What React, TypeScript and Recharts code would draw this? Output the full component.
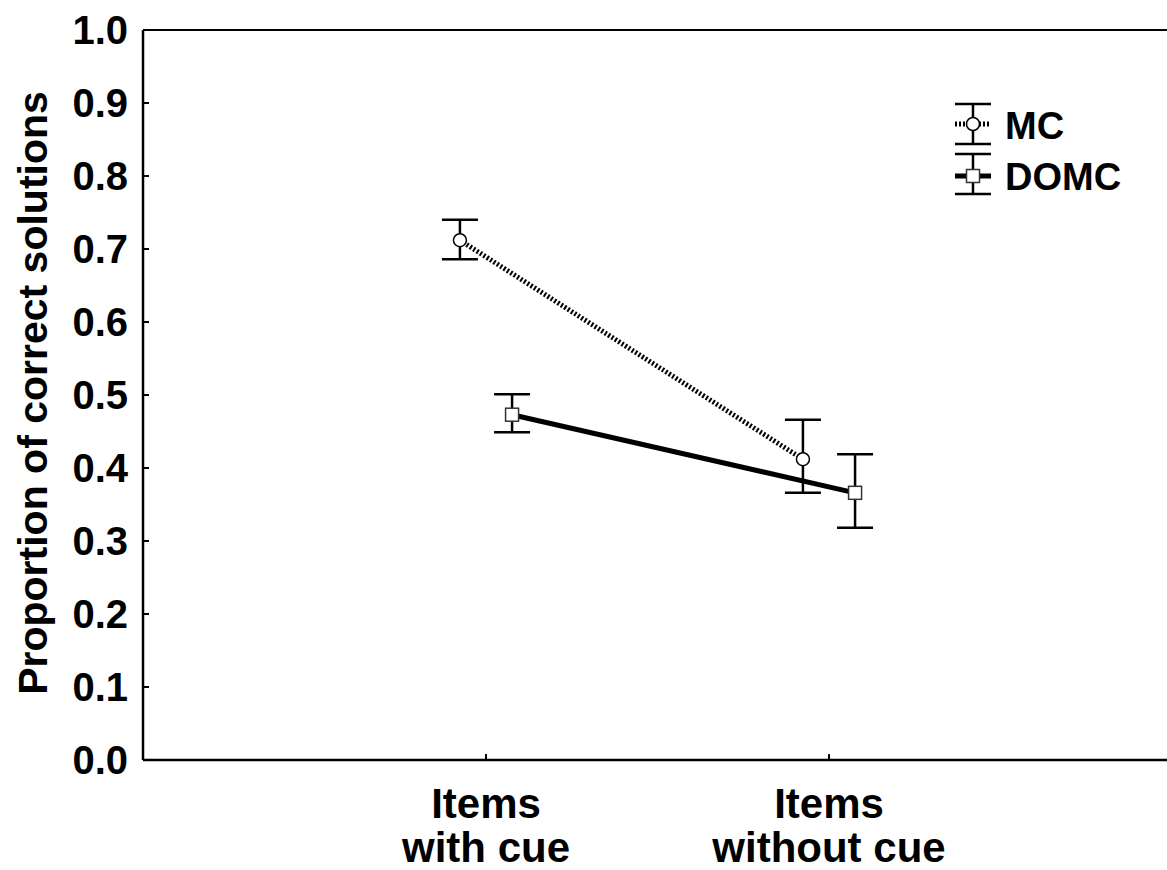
import React from 'react';
import { ComposedChart, Line, XAxis, YAxis, ErrorBar, ReferenceLine, Legend } from 'recharts';

const categories = ['Items with cue', 'Items without cue'];
const xTickLines = [
  ['Items', 'with cue'],
  ['Items', 'without cue'],
];
const seriesNames = ['MC', 'DOMC'];
const mcMean = [0.712, 0.412];
const mcLow = [0.686, 0.366];
const mcHigh = [0.74, 0.466];
const domcMean = [0.473, 0.366];
const domcLow = [0.449, 0.318];
const domcHigh = [0.501, 0.419];
const yTicks = [0, 0.1, 0.2, 0.3, 0.4, 0.5, 0.6, 0.7, 0.8, 0.9, 1.0];

const SHIFT = 0.076;
const FONT = '"Liberation Sans", Arial, sans-serif';

const build = (mean: number[], low: number[], high: number[], shift: number) =>
  mean.map((m, i) => ({
    name: categories[i],
    x: i + 1 + shift,
    y: m,
    err: [m - low[i], high[i] - m],
  }));

const mcData = build(mcMean, mcLow, mcHigh, -SHIFT);
const domcData = build(domcMean, domcLow, domcHigh, SHIFT);

const Y_MARGIN = 15;
const X_MARGIN = 10;

const YTick = (props: any) => {
  const { x, y, payload } = props;
  const axisX = x + Y_MARGIN;
  return (
    <g>
      <line x1={axisX} x2={axisX + 6} y1={y} y2={y} stroke="#000" strokeWidth={2} />
      <text x={x} y={y + 14} textAnchor="end" fontFamily={FONT} fontWeight="bold" fontSize={40} fill="#000">
        {Number(payload.value).toFixed(1)}
      </text>
    </g>
  );
};

const XTick = (props: any) => {
  const { x, y, payload } = props;
  const axisY = y - X_MARGIN;
  const idx = Math.round(payload.value) - 1;
  const lines = xTickLines[idx] || [];
  return (
    <g>
      <line x1={x} x2={x} y1={axisY} y2={axisY - 6} stroke="#000" strokeWidth={2} />
      <text x={x} y={axisY + 58} textAnchor="middle" fontFamily={FONT} fontWeight="bold" fontSize={42} fill="#000">
        {lines[0]}
      </text>
      <text x={x} y={axisY + 102} textAnchor="middle" fontFamily={FONT} fontWeight="bold" fontSize={42} fill="#000">
        {lines[1]}
      </text>
    </g>
  );
};

const CircleDot = (props: any) => {
  const { cx, cy } = props;
  if (cx == null || cy == null) return null;
  return <circle cx={cx} cy={cy} r={6.5} fill="#fff" stroke="#000" strokeWidth={1.5} />;
};

const SquareDot = (props: any) => {
  const { cx, cy } = props;
  if (cx == null || cy == null) return null;
  return <rect x={cx - 6.5} y={cy - 6.5} width={13} height={13} fill="#fff" stroke="#333" strokeWidth={1.5} />;
};

const YLabel = (props: any) => {
  const vb = props.viewBox || { x: 0, y: 30, width: 143, height: 730 };
  const cx = vb.x + 47;
  const cy = vb.y + vb.height / 2 - 2;
  return (
    <text
      x={cx}
      y={cy}
      transform={`rotate(-90 ${cx} ${cy})`}
      textAnchor="middle"
      fontFamily={FONT}
      fontWeight="bold"
      fontSize={41}
      fill="#000"
    >
      Proportion of correct solutions
    </text>
  );
};

const LegendContent = () => (
  <svg width={200} height={110} style={{ display: 'block', overflow: 'visible' }}>
    {/* MC */}
    <line x1={5} x2={41} y1={9} y2={9} stroke="#000" strokeWidth={2.5} />
    <line x1={5} x2={41} y1={49} y2={49} stroke="#000" strokeWidth={2.5} />
    <line x1={23} x2={23} y1={9} y2={49} stroke="#000" strokeWidth={2.5} />
    <line x1={5} x2={41} y1={29} y2={29} stroke="#000" strokeWidth={5} strokeDasharray="2 2" />
    <circle cx={23} cy={29} r={6.5} fill="#fff" stroke="#000" strokeWidth={1.5} />
    <text x={55} y={44} fontFamily={FONT} fontWeight="bold" fontSize={38} fill="#000">
      {seriesNames[0]}
    </text>
    {/* DOMC */}
    <line x1={5} x2={41} y1={59} y2={59} stroke="#000" strokeWidth={2.5} />
    <line x1={5} x2={41} y1={99} y2={99} stroke="#000" strokeWidth={2.5} />
    <line x1={23} x2={23} y1={59} y2={99} stroke="#000" strokeWidth={2.5} />
    <line x1={5} x2={41} y1={81} y2={81} stroke="#000" strokeWidth={5} />
    <rect x={16.5} y={74.5} width={13} height={13} fill="#fff" stroke="#333" strokeWidth={1.5} />
    <text x={55} y={95} fontFamily={FONT} fontWeight="bold" fontSize={38} fill="#000">
      {seriesNames[1]}
    </text>
  </svg>
);

export default function App() {
  return (
    <div style={{ position: 'absolute', left: 0, top: 0, width: 1167, height: 870, background: '#fff', overflow: 'hidden' }}>
      <ComposedChart width={1167} height={870} margin={{ top: 30, right: -5, left: 0, bottom: 0 }}>
        <XAxis
          type="number"
          dataKey="x"
          domain={[0, 3]}
          ticks={[1, 2]}
          height={110}
          tickSize={0}
          tickMargin={X_MARGIN}
          tickLine={false}
          axisLine={{ stroke: '#000', strokeWidth: 2.5 }}
          tick={<XTick />}
          interval={0}
        />
        <YAxis
          type="number"
          domain={[0, 1]}
          ticks={yTicks}
          width={143}
          tickSize={0}
          tickMargin={Y_MARGIN}
          tickLine={false}
          axisLine={{ stroke: '#000', strokeWidth: 2.5 }}
          tick={<YTick />}
          interval={0}
          label={<YLabel />}
        />
        <ReferenceLine y={1} stroke="#000" strokeWidth={2} />
        <Line
          data={mcData}
          dataKey="y"
          name={seriesNames[0]}
          stroke="#000"
          strokeWidth={5}
          strokeDasharray="2 2"
          dot={<CircleDot />}
          activeDot={false}
          isAnimationActive={false}
        >
          <ErrorBar dataKey="err" direction="y" width={18} stroke="#000" strokeWidth={2.5} isAnimationActive={false} />
        </Line>
        <Line
          data={domcData}
          dataKey="y"
          name={seriesNames[1]}
          stroke="#000"
          strokeWidth={5}
          dot={<SquareDot />}
          activeDot={false}
          isAnimationActive={false}
        >
          <ErrorBar dataKey="err" direction="y" width={18} stroke="#000" strokeWidth={2.5} isAnimationActive={false} />
        </Line>
        <Legend
          verticalAlign="middle"
          align="center"
          layout="horizontal"
          content={<LegendContent />}
          wrapperStyle={{ position: 'absolute', left: 950, top: 95, width: 200, height: 110 }}
        />
      </ComposedChart>
    </div>
  );
}
